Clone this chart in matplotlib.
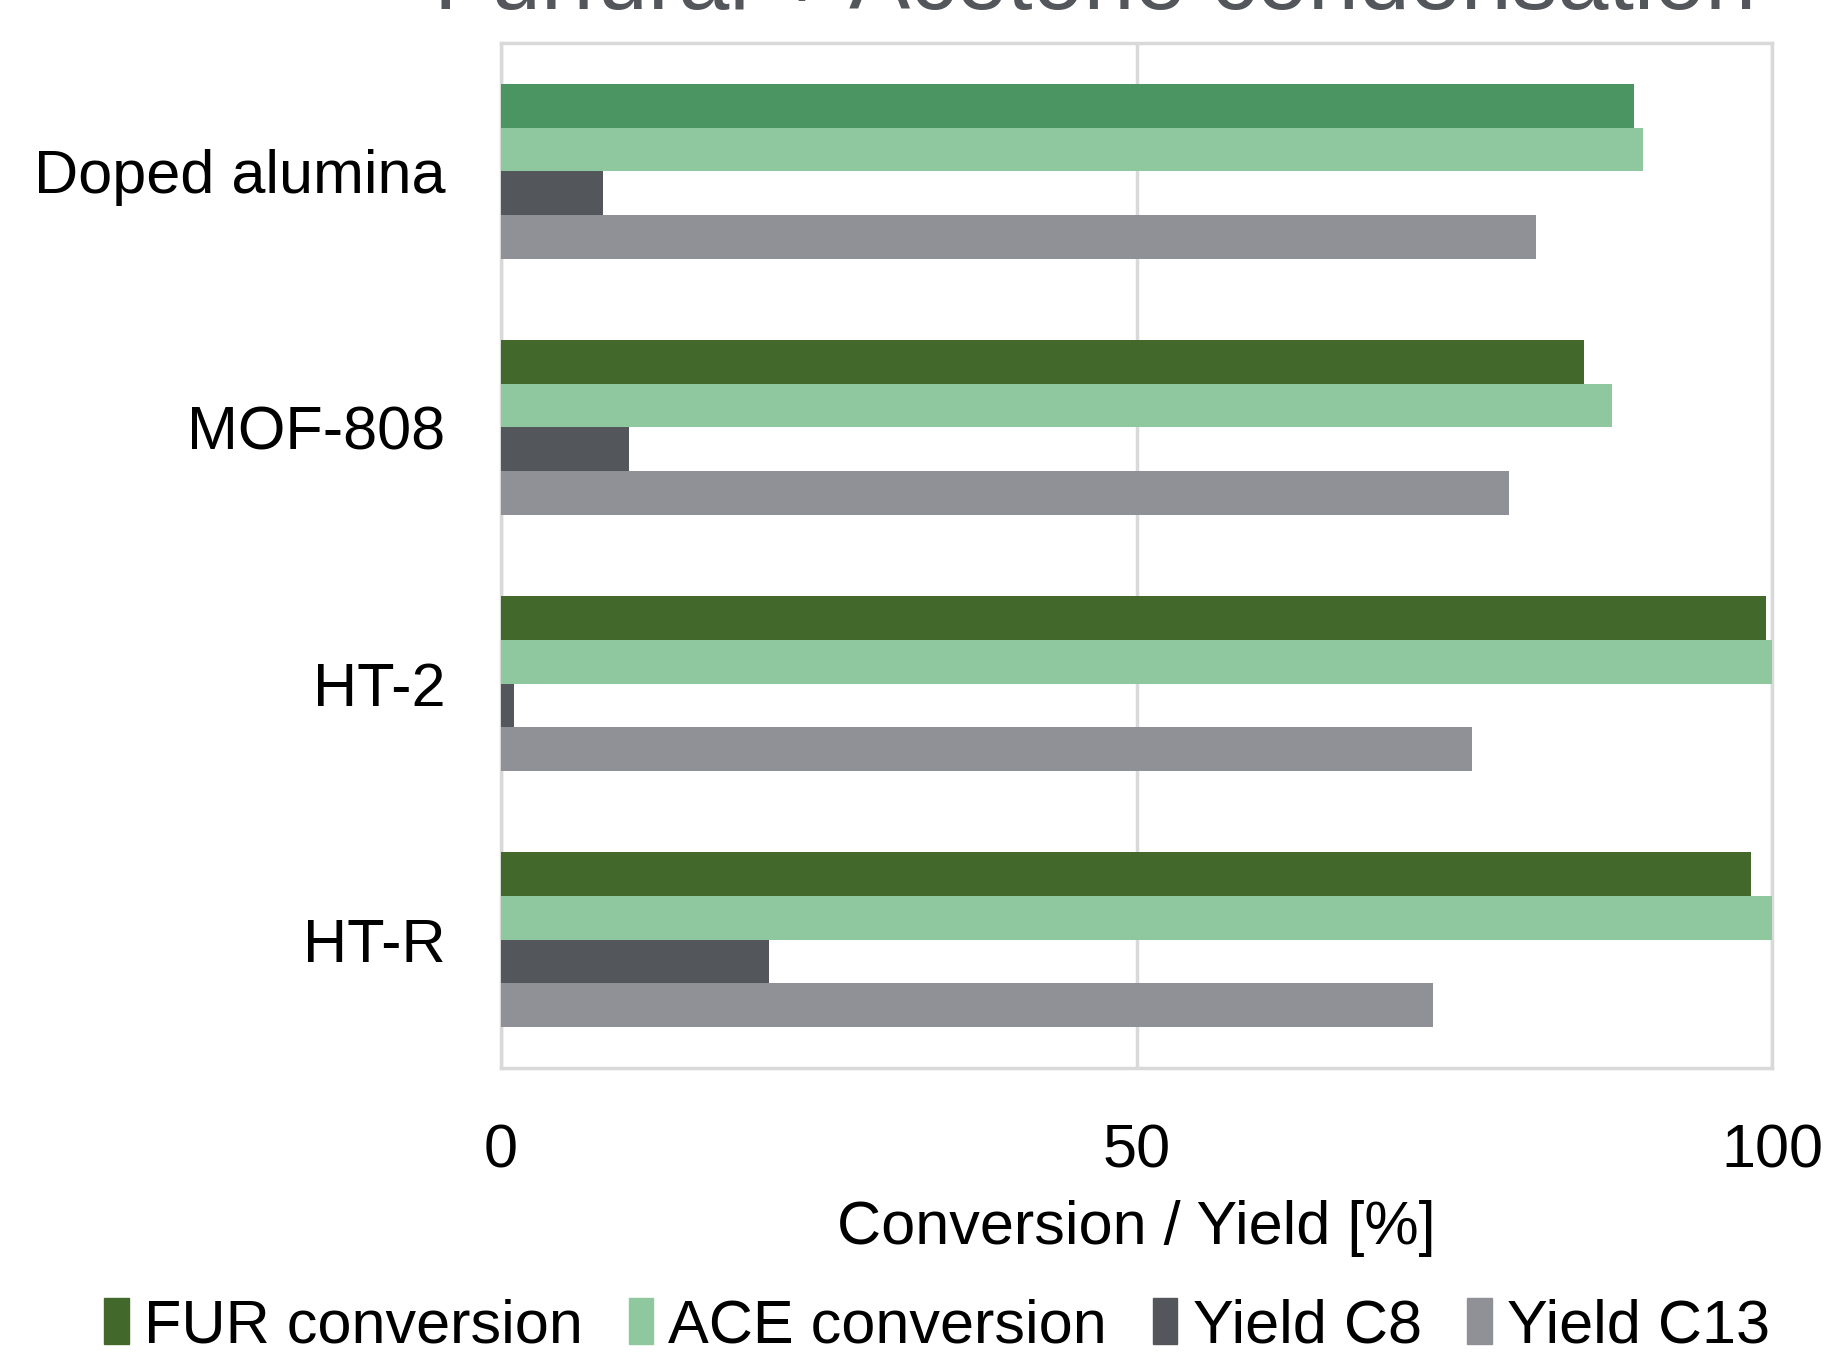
import numpy as np
import matplotlib.pyplot as plt
from matplotlib.patches import Patch

plt.rcParams['font.family'] = ['Liberation Sans', 'DejaVu Sans']

catalysts = ["Doped alumina", "MOF-808", "HT-2", "HT-R"]
fur_conv = [89.1, 85.2, 99.5, 98.3]
ace_conv = [89.8, 87.4, 100.0, 100.0]
yield_c8 = [8.0, 10.1, 1.0, 21.1]
yield_c13 = [81.4, 79.3, 76.4, 73.3]

series_names = ["FUR conversion", "ACE conversion", "Yield C8", "Yield C13"]
colors = ["#43682b", "#8fc89e", "#53565a", "#8f9196"]
highlight = "#4a9562"  # first FUR bar is drawn in a lighter green

fig = plt.figure(figsize=(18.27, 13.52), dpi=100)
ax = fig.add_axes([0.2742, 0.2103, 0.6958, 0.7577])

y = np.arange(len(catalysts))
h = 0.171
series = [fur_conv, ace_conv, yield_c8, yield_c13]
for i, vals in enumerate(series):
    offs = (i - 1.5) * h
    bar_cols = [colors[i]] * len(vals)
    if i == 0:
        bar_cols[0] = highlight
    ax.barh(y + offs, vals, height=h, color=bar_cols, zorder=3)

ax.set_ylim(3.5, -0.5)
ax.set_xlim(0, 100)
ax.set_xticks([0, 50, 100])
ax.set_yticks(y)
ax.set_yticklabels(catalysts)
ax.tick_params(axis='y', length=0, pad=40, labelsize=44)
ax.tick_params(axis='x', length=0, pad=40, labelsize=44)
ax.xaxis.grid(True, color="#d9d9d9", linewidth=2.5, zorder=0)
for s in ax.spines.values():
    s.set_color("#d9d9d9")
    s.set_linewidth(2.5)
ax.set_xlabel("Conversion / Yield [%]", fontsize=44, labelpad=14)

# title is cut by the top edge in the original too
fig.text(0.5995, 0.9935, "Furfural + Acetone condensation", fontsize=66,
         color="#53565a", ha='center', va='baseline')

handles = [Patch(color=c) for c in colors]
fig.legend(handles, series_names, loc='center', bbox_to_anchor=(0.513, 0.019),
           ncol=4, frameon=False, fontsize=44, handlelength=0.4,
           handleheight=0.8, handletextpad=0.25, columnspacing=0.75)

fig.savefig("out.png", dpi=100, facecolor="white")
